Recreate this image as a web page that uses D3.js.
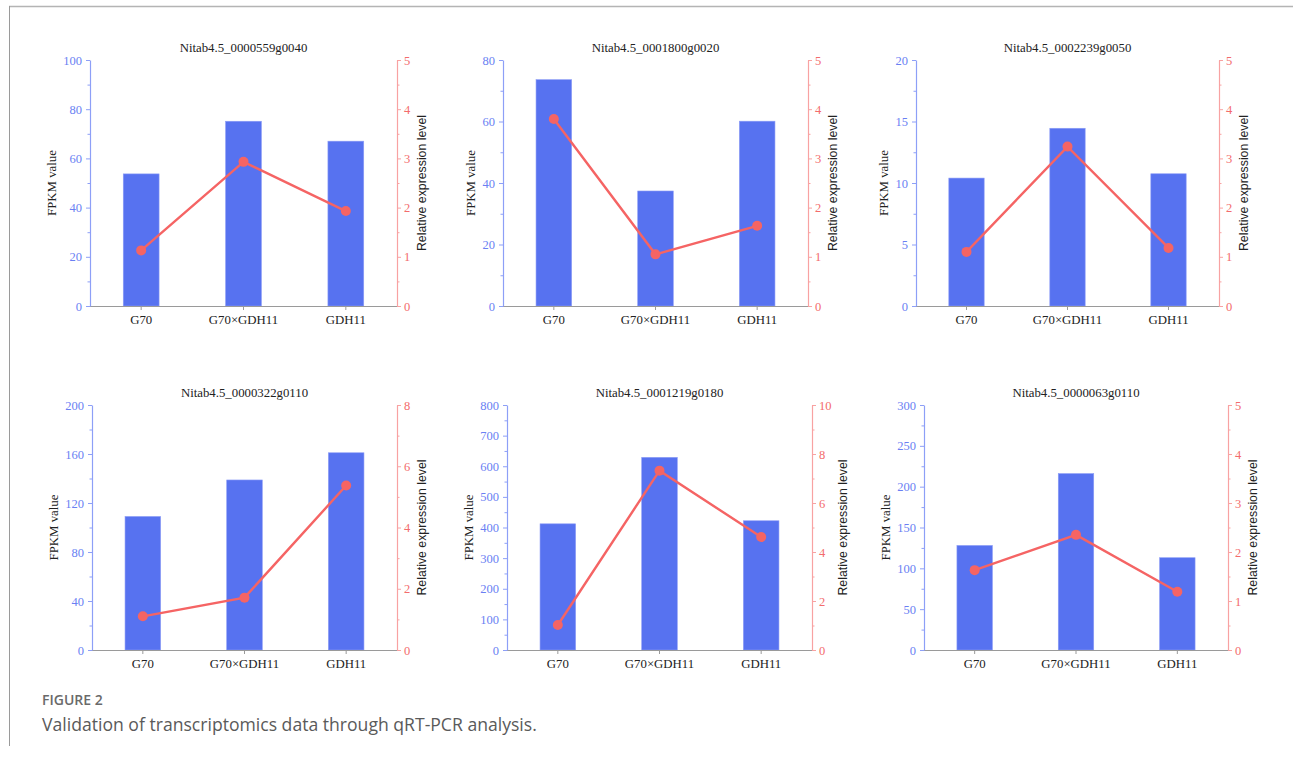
<!doctype html>
<html>
  <head>
    <meta charset="utf-8">
    <style>
      body { margin: 0; background: #fff; }
      #fig { display: block; }
      .caption-head { font: 600 14px "Open Sans", sans-serif; fill: #6a6a6a; }
      .caption-text { font: 17.6px "Open Sans", sans-serif; fill: #5a5a5a; }
      .title, .ylab { font-family: "Liberation Serif", "Times New Roman", serif; }
    </style>
  </head>
  <body>
    <svg id="fig" width="1293" height="758"></svg>

    <script src="https://d3js.org/d3.v7.min.js"></script>
    <script>
      // ---- data ----
      var groups = ["G70", "G70\u00d7GDH11", "GDH11"];
      var genes = ["Nitab4.5_0000559g0040", "Nitab4.5_0001800g0020", "Nitab4.5_0002239g0050",
                   "Nitab4.5_0000322g0110", "Nitab4.5_0001219g0180", "Nitab4.5_0000063g0110"];
      // FPKM (bars, left axis)
      var fpkm = [
        [53.7, 75.1, 67.0],
        [73.6, 37.4, 60.1],
        [10.4, 14.45, 10.75],
        [109, 138.8, 161],
        [412, 629, 422],
        [128, 216, 113]
      ];
      // qRT-PCR relative expression (line, right axis)
      var rel = [
        [1.13, 2.93, 1.93],
        [3.80, 1.05, 1.63],
        [1.10, 3.24, 1.18],
        [1.10, 1.71, 5.37],
        [1.02, 7.32, 4.61],
        [1.63, 2.35, 1.19]
      ];
      var fpkmMax = [100, 80, 20, 200, 800, 300];
      var fpkmStep = [20, 20, 5, 40, 100, 50];
      var relMax = [5, 5, 5, 8, 10, 5];
      var relStep = [1, 1, 1, 2, 2, 1];

      // ---- layout ----
      var plotLeft = [[90, 503, 916], [92, 507, 924]];
      var plotRight = [[397, 808, 1219], [397, 812, 1228]];
      var plotTop = [60, 405];
      var plotBottom = [306, 650];

      var barColor = "#5772f0",
          lineColor = "#f56464",
          leftAxisColor = "#8d9ff7",
          leftTextColor = "#6a7ff3",
          rightAxisColor = "#f8a2a2",
          rightTextColor = "#f36c6c",
          serif = "'Liberation Serif', 'Times New Roman', serif";

      var svg = d3.select("#fig");

      // frame lines of the page
      svg.append("line").attr("x1", 9).attr("x2", 1293).attr("y1", 6.5).attr("y2", 6.5)
        .attr("stroke", "#b4b4b4").attr("stroke-width", 1.6);
      svg.append("line").attr("x1", 9.5).attr("x2", 9.5).attr("y1", 6).attr("y2", 746)
        .attr("stroke", "#9a9a9a").attr("stroke-width", 1);

      function range(step, max) {
        var out = [];
        for (var v = 0; v <= max + 1e-9; v += step) out.push(+v.toFixed(6));
        return out;
      }

      genes.forEach(function(gene, k) {
        var row = Math.floor(k / 3), col = k % 3;
        var x0 = plotLeft[row][col], x1 = plotRight[row][col];
        var y0 = plotTop[row], y1 = plotBottom[row];

        var x = d3.scaleBand().domain(groups).range([x0, x1]).paddingInner(0.65).paddingOuter(0.325);
        var y = d3.scaleLinear().domain([0, fpkmMax[k]]).range([y1, y0]);
        var y2 = d3.scaleLinear().domain([0, relMax[k]]).range([y1, y0]);

        var g = svg.append("g");

        // bars
        g.selectAll("rect.bar")
          .data(fpkm[k])
          .enter().append("rect")
            .attr("class", "bar")
            .attr("x", function(d, i) { return x(groups[i]); })
            .attr("width", x.bandwidth())
            .attr("y", function(d) { return y(d); })
            .attr("height", function(d) { return y1 - y(d); })
            .attr("fill", barColor)
            .attr("stroke", "#8c9cf6")
            .attr("stroke-width", 0.6);

        // bottom axis
        var xAxis = g.append("g")
          .attr("transform", "translate(0," + y1 + ")")
          .call(d3.axisBottom(x).tickSize(4).tickPadding(5).tickSizeOuter(0))
          .attr("font-family", serif).attr("font-size", 12.8);
        xAxis.select(".domain").attr("stroke", "#9a9a9a").attr("d", "M" + x0 + ",0.5H" + x1);
        xAxis.selectAll(".tick line").attr("stroke", "#9a9a9a");
        xAxis.selectAll("text").attr("fill", "#222");

        // left axis (FPKM)
        var lt = range(fpkmStep[k], fpkmMax[k]);
        var lminor = lt.slice(0, -1).map(function(v) { return v + fpkmStep[k] / 2; });
        var yAxis = g.append("g").attr("transform", "translate(" + x0 + ",0)")
          .call(d3.axisLeft(y).tickValues(lt).tickFormat(d3.format("d")).tickSize(4).tickPadding(4).tickSizeOuter(0))
          .attr("font-family", serif).attr("font-size", 12.5);
        g.append("g").attr("transform", "translate(" + x0 + ",0)")
          .call(d3.axisLeft(y).tickValues(lminor).tickSize(2.5).tickFormat(""))
          .call(function(s) { s.select(".domain").remove(); })
          .selectAll("line").attr("stroke", leftAxisColor);
        yAxis.select(".domain").attr("stroke", leftAxisColor).attr("stroke-width", 1.2);
        yAxis.selectAll(".tick line").attr("stroke", leftAxisColor);
        yAxis.selectAll("text").attr("fill", leftTextColor);

        // right axis (relative expression)
        var rt = range(relStep[k], relMax[k]);
        var rminor = rt.slice(0, -1).map(function(v) { return v + relStep[k] / 2; });
        var y2Axis = g.append("g").attr("transform", "translate(" + x1 + ",0)")
          .call(d3.axisRight(y2).tickValues(rt).tickFormat(d3.format("d")).tickSize(4).tickPadding(3).tickSizeOuter(0))
          .attr("font-family", serif).attr("font-size", 12.5);
        g.append("g").attr("transform", "translate(" + x1 + ",0)")
          .call(d3.axisRight(y2).tickValues(rminor).tickSize(2.5).tickFormat(""))
          .call(function(s) { s.select(".domain").remove(); })
          .selectAll("line").attr("stroke", rightAxisColor);
        y2Axis.select(".domain").attr("stroke", rightAxisColor).attr("stroke-width", 1.2);
        y2Axis.selectAll(".tick line").attr("stroke", rightAxisColor);
        y2Axis.selectAll("text").attr("fill", rightTextColor);

        // line + markers
        var cx = function(d, i) { return x(groups[i]) + x.bandwidth() / 2; };
        g.append("path")
          .datum(rel[k])
          .attr("fill", "none")
          .attr("stroke", lineColor)
          .attr("stroke-width", 2.4)
          .attr("d", d3.line().x(cx).y(function(d) { return y2(d); }));
        g.selectAll("circle")
          .data(rel[k])
          .enter().append("circle")
            .attr("cx", cx)
            .attr("cy", function(d) { return y2(d); })
            .attr("r", 5)
            .attr("fill", lineColor);

        // titles
        g.append("text").attr("class", "title")
          .attr("x", (x0 + x1) / 2).attr("y", y0 - 8)
          .attr("text-anchor", "middle").attr("fill", "#222").style("font-size", "12.8px")
          .text(gene);

        var ld = String(fpkmMax[k]).length, rd = String(relMax[k]).length;
        g.append("text").attr("class", "ylab")
          .attr("transform", "translate(" + (x0 - 20 - 6 * ld) + "," + (y0 + y1) / 2 + ") rotate(-90)")
          .attr("text-anchor", "middle").attr("dy", "0.35em").attr("fill", "#222")
          .style("font-size", "12.8px")
          .text("FPKM value");
        g.append("text")
          .attr("transform", "translate(" + (x1 + 19 + 6 * rd) + "," + (y0 + y1) / 2 + ") rotate(-90)")
          .attr("text-anchor", "middle").attr("dy", "0.35em").attr("fill", "#222")
          .style("font-family", "'Liberation Sans', Arial, sans-serif").style("font-size", "12.3px")
          .text("Relative expression level");
      });

      // caption
      svg.append("text").attr("class", "caption-head").attr("x", 42).attr("y", 705).text("FIGURE 2");
      svg.append("text").attr("class", "caption-text").attr("x", 42).attr("y", 731)
        .text("Validation of transcriptomics data through qRT-PCR analysis.");
    </script>
  </body>
</html>
